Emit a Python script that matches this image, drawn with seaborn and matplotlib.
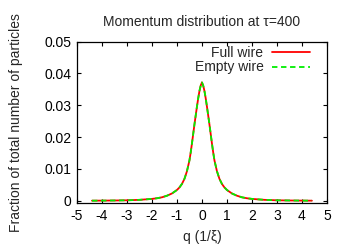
import matplotlib
matplotlib.use("Agg")
import matplotlib.pyplot as plt
import numpy as np
import pandas as pd
import seaborn as sns

# values (symmetric around q=0)
q_half = [0.0, 0.05, 0.1, 0.15, 0.2, 0.25, 0.3, 0.35, 0.4, 0.45, 0.5, 0.6, 0.7,
          0.8, 0.9, 1.0, 1.2, 1.4, 1.6, 1.8, 2.0, 2.5, 3.0, 3.5, 4.0, 4.4]
frac_half = [0.0372, 0.0362, 0.0345, 0.0322, 0.0296, 0.0268, 0.0240, 0.0210,
             0.0180, 0.0152, 0.0127, 0.0093, 0.0069, 0.0053, 0.0042, 0.0034,
             0.0023, 0.0016, 0.0011, 0.0008, 0.0006, 0.0003, 0.00016, 0.0001,
             0.00006, 0.00004]

q = [-v for v in q_half[:0:-1]] + q_half
full_wire = frac_half[:0:-1] + frac_half
empty_wire = list(full_wire)

sns.set_style("ticks")
plt.rcParams["font.family"] = ["Liberation Sans", "DejaVu Sans"]
plt.rcParams["font.size"] = 10
plt.rcParams["axes.unicode_minus"] = False

fig = plt.figure(figsize=(3.5, 2.45), dpi=100)
ax = fig.add_axes([0.22, 0.170, 0.714, 0.660])

df = pd.DataFrame({"q": q, "full": full_wire, "empty": empty_wire})
sns.lineplot(data=df, x="q", y="full", ax=ax, color="#ff0000", lw=1.3,
             label="Full wire")
sns.lineplot(data=df, x="q", y="empty", ax=ax, color="#00ee00", lw=1.3,
             dashes=(3, 2), label="Empty wire")

ax.set_xlim(-5, 5)
ax.set_ylim(-0.0008, 0.05)
ax.set_xticks(np.arange(-5, 6, 1))
ax.set_yticks([0, 0.01, 0.02, 0.03, 0.04, 0.05])
ax.set_yticklabels(["0", "0.01", "0.02", "0.03", "0.04", "0.05"])
ax.tick_params(direction="in", top=True, right=True, length=3, width=0.8,
               labelsize=10, colors="black", pad=4)
for s in ax.spines.values():
    s.set_linewidth(0.9)
    s.set_color("black")

ax.set_xlabel("q (1/ξ)", fontsize=10, labelpad=5)
ax.set_ylabel("Fraction of total number of particles", fontsize=10, labelpad=15)
ax.set_title("Momentum distribution at τ=400", fontsize=10, pad=11)

leg = ax.legend(loc="upper right", bbox_to_anchor=(0.932, 0.975),
                frameon=False, markerfirst=False, fontsize=10,
                handlelength=2.7, borderaxespad=0, borderpad=0,
                labelspacing=0.05, handletextpad=0.65)
for t in leg.get_texts():
    t.set_ha("right")

fig.savefig("out.png", dpi=100)
